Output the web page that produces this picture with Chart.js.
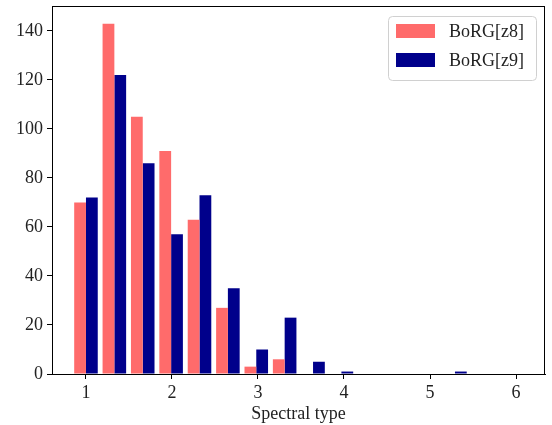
<!DOCTYPE html>
<html>
<head>
<meta charset="utf-8">
<script src="https://cdn.jsdelivr.net/npm/chart.js@4.4.1/dist/chart.umd.min.js"></script>
<style>
  html, body { margin: 0; padding: 0; background: #fff; }
  #wrap { width: 552px; height: 425px; position: relative; }
</style>
</head>
<body>
<div id="wrap"><canvas id="hist"></canvas></div>
<script>
// histogram bins (centres) and counts per survey field
const binCenters = [1.00, 1.33, 1.66, 1.99, 2.32, 2.65, 2.98, 3.31, 3.64, 3.97, 4.30, 4.63, 4.96, 5.29, 5.62, 5.95];
const countsZ8 = [70, 143, 105, 91, 63, 27, 3, 6, 0, 0, 0, 0, 0, 0, 0, 0];
const countsZ9 = [72, 122, 86, 57, 73, 35, 10, 23, 5, 1, 0, 0, 0, 1, 0, 0];
const seriesNames = ["BoRG[z8]", "BoRG[z9]"];
const seriesColors = ["#ff6b6b", "#00008b"];
const xTicks = [1, 2, 3, 4, 5, 6];
const yTicks = [0, 20, 40, 60, 80, 100, 120, 140];
const xLabel = "Spectral type";

const FONT = { family: "'Liberation Serif', 'DejaVu Serif', serif", size: 18 };
const INK = "#222";

function toPoints(counts) {
  return counts.map((c, i) => ({ x: binCenters[i], y: c }));
}

// closes the axes box and draws the framed legend in the upper right
const framePlugin = {
  id: "frame",
  afterDraw(chart) {
    const { ctx, chartArea: a } = chart;
    ctx.save();
    ctx.strokeStyle = "#000";
    ctx.lineWidth = 1;
    ctx.strokeRect(Math.round(a.left) + 0.5, Math.round(a.top) + 0.5,
      Math.round(a.right - a.left) - 1, Math.round(a.bottom - a.top));

    const boxW = 148, boxH = 64;
    const bx = a.right - 9 - boxW, by = a.top + 10;
    ctx.beginPath();
    ctx.roundRect(bx + 0.5, by + 0.5, boxW, boxH, 4);
    ctx.fillStyle = "rgba(255,255,255,0.8)";
    ctx.fill();
    ctx.strokeStyle = "#d0d0d0";
    ctx.stroke();

    ctx.font = `${FONT.size}px ${FONT.family}`;
    ctx.textBaseline = "middle";
    chart.data.datasets.forEach((ds, i) => {
      const rowY = by + 15 + i * 29;
      ctx.fillStyle = ds.backgroundColor;
      ctx.fillRect(bx + 8, rowY - 7, 39, 14);
      ctx.fillStyle = INK;
      ctx.fillText(ds.label, bx + 61, rowY + 1);
    });
    ctx.restore();
  }
};

const axisCommon = {
  grid: { drawOnChartArea: false, drawTicks: true, offset: false, tickLength: 5, color: "#000", lineWidth: 1 },
  border: { display: true, color: "#000", width: 1 },
};

new Chart(document.getElementById("hist").getContext("2d"), {
  type: "bar",
  data: {
    datasets: [
      { label: seriesNames[0], data: toPoints(countsZ8), backgroundColor: seriesColors[0] },
      { label: seriesNames[1], data: toPoints(countsZ9), backgroundColor: seriesColors[1] },
    ],
  },
  options: {
    responsive: true,
    maintainAspectRatio: false,
    animation: false,
    devicePixelRatio: 1,
    layout: { padding: { top: 6, right: 7, left: 0, bottom: 0 } },
    datasets: {
      bar: { borderWidth: 0, barPercentage: 1, categoryPercentage: 0.83, grouped: true },
    },
    plugins: {
      legend: { display: false },
      tooltip: { enabled: false },
    },
    scales: {
      x: {
        ...axisCommon,
        type: "linear",
        offset: false,
        min: 0.605,
        max: 6.337,
        afterBuildTicks: (s) => { s.ticks = xTicks.map((v) => ({ value: v })); },
        afterFit: (s) => { s.height = 51; s.paddingLeft = 0; s.paddingRight = 0; },
        ticks: { font: FONT, color: INK, padding: 3, maxRotation: 0, autoSkip: false },
        title: { display: true, text: xLabel, font: FONT, color: INK, padding: { top: 0, bottom: 0 } },
      },
      y: {
        ...axisCommon,
        min: 0,
        max: 150.2,
        afterBuildTicks: (s) => { s.ticks = yTicks.map((v) => ({ value: v })); },
        afterFit: (s) => { s.width = 52; s.paddingTop = 0; s.paddingBottom = 0; },
        ticks: { font: FONT, color: INK, padding: 4 },
      },
    },
  },
  plugins: [framePlugin],
});
</script>
</body>
</html>
